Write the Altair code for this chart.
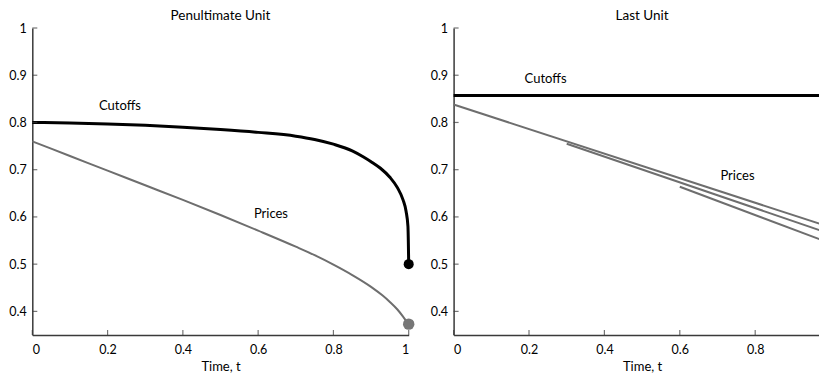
import altair as alt
import pandas as pd

# ---------------- data ----------------
# Penultimate unit
pen_cut_t = [0, 0.1, 0.2, 0.3, 0.4, 0.5, 0.6, 0.7, 0.75, 0.8, 0.85, 0.88, 0.9,
             0.925, 0.95, 0.97, 0.985, 0.993, 0.998, 1.0]
pen_cut_v = [0.800, 0.799, 0.797, 0.794, 0.790, 0.785, 0.779, 0.771, 0.764, 0.754,
             0.740, 0.727, 0.717, 0.703, 0.684, 0.662, 0.636, 0.612, 0.580, 0.500]
pen_price_t = [0, 0.1, 0.2, 0.3, 0.4, 0.5, 0.6, 0.7, 0.75, 0.8, 0.85, 0.9, 0.93,
               0.95, 0.97, 0.985, 1.0]
pen_price_v = [0.760, 0.729, 0.698, 0.667, 0.636, 0.604, 0.571, 0.537, 0.519, 0.499,
               0.477, 0.452, 0.434, 0.420, 0.404, 0.389, 0.372]

# Last unit
last_cut_t = [0, 1.0, 1.0]
last_cut_v = [0.857, 0.857, 0.500]
last_price_series = ["p1", "p1", "p2", "p2", "p3", "p3"]
last_price_t = [0, 1.0, 0.3, 1.0, 0.6, 1.0]
last_price_v = [0.838, 0.578, 0.755, 0.564, 0.664, 0.544]

# end points at t = 1
dot_t = [1.0, 1.0]
dot_v = [0.500, 0.373]
dot_kind = ["cutoff", "price"]

# annotations (t, v, text)
pen_labels = [(0.233, 0.835, "Cutoffs"), (0.634, 0.606, "Prices")]
last_labels = [(0.244, 0.892, "Cutoffs"), (0.753, 0.687, "Prices")]

x_ticks_pen = [0, 0.2, 0.4, 0.6, 0.8, 1.0]
x_ticks_last = [0, 0.2, 0.4, 0.6, 0.8]
y_ticks = [0.4, 0.5, 0.6, 0.7, 0.8, 0.9, 1.0]

# ---------------- style ----------------
FONT = "Lato"
GREY = "#6e6e6e"
DOT_GREY = "#777777"
AXIS_COL = "#3a3a3a"
H = 307


def panel(title, width, x_tick_vals, cut_t, cut_v, price_df, labels):
    xs = alt.Scale(domain=[0, 1.0], nice=False, zero=False)
    ys = alt.Scale(domain=[0.35, 1.0], nice=False, zero=False)
    X = alt.X("t:Q", scale=xs,
              axis=alt.Axis(values=x_tick_vals, format="~g", title="Time, t"))
    Y = alt.Y("v:Q", scale=ys,
              axis=alt.Axis(values=y_ticks, format="~g", title=None))

    cut_df = pd.DataFrame({"t": cut_t, "v": cut_v})
    cut = alt.Chart(cut_df).mark_line(color="black", strokeWidth=3,
                                      interpolate="monotone").encode(x=X, y=Y)

    price = alt.Chart(price_df).mark_line(color=GREY, strokeWidth=2,
                                          interpolate="monotone").encode(
        x=X, y=Y, detail="s:N")

    dots_df = pd.DataFrame({"t": dot_t, "v": dot_v, "k": dot_kind})
    dots = alt.Chart(dots_df).mark_point(filled=True, opacity=1).encode(
        x=X, y=Y,
        color=alt.Color("k:N", scale=alt.Scale(domain=["cutoff", "price"],
                                               range=["black", DOT_GREY]), legend=None),
        size=alt.Size("k:N", scale=alt.Scale(domain=["cutoff", "price"],
                                             range=[100, 130]), legend=None))

    lab_df = pd.DataFrame(labels, columns=["t", "v", "txt"])
    text = alt.Chart(lab_df).mark_text(font=FONT, fontSize=13, color="black").encode(
        x=X, y=Y, text="txt:N")

    xt = alt.Chart(pd.DataFrame({"t": x_tick_vals})).mark_tick(
        orient="vertical", size=5, thickness=1.2, color=AXIS_COL).encode(
        x=X, y=alt.value(H - 2.5))
    yt = alt.Chart(pd.DataFrame({"v": y_ticks})).mark_tick(
        orient="horizontal", size=5, thickness=1.2, color=AXIS_COL).encode(
        y=Y, x=alt.value(2.5))

    return alt.layer(price, cut, dots, text, xt, yt).properties(
        width=width, height=H,
        title=alt.TitleParams(title, font=FONT, fontSize=13.5, fontWeight="normal",
                              color="black", offset=0))


pen_price_df = pd.DataFrame({"s": "p", "t": pen_price_t, "v": pen_price_v})
last_price_df = pd.DataFrame({"s": last_price_series, "t": last_price_t, "v": last_price_v})

left = panel("Penultimate Unit", 376.4, x_ticks_pen, pen_cut_t, pen_cut_v,
             pen_price_df, pen_labels)
right = panel("Last Unit", 377, x_ticks_last, last_cut_t, last_cut_v,
              last_price_df, last_labels)

chart = alt.hconcat(left, right, spacing=44.3, bounds="flush").properties(
    autosize=alt.AutoSizeParams(type="none"),
    padding={"left": 24.3, "top": 20, "right": 811 - 24.3, "bottom": 345},
).configure_view(stroke=None).configure_axis(
    grid=False, tickSize=0, domainColor=AXIS_COL, domainWidth=1.5,
    labelFont=FONT, labelFontSize=12.5, labelColor="black", labelPadding=6,
    titleFont=FONT, titleFontSize=13, titleFontWeight="normal", titleColor="black",
    titlePadding=4.5).configure_axisX(labelPadding=8.4).configure_title(anchor="middle")

chart.save("out.html", embed_options={"renderer": "svg", "actions": False})
